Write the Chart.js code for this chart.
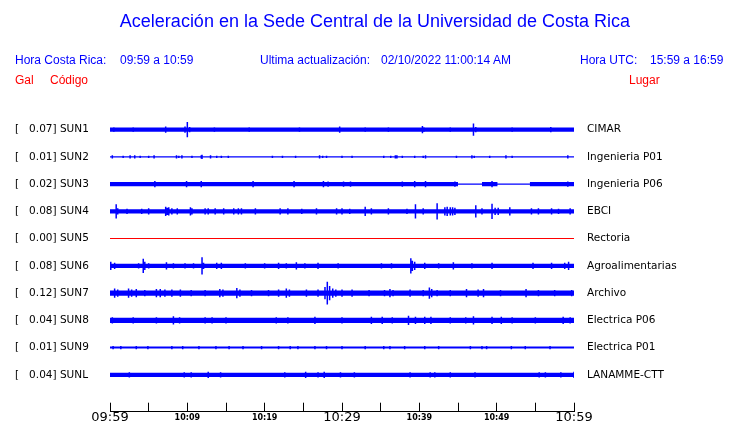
<!DOCTYPE html>
<html>
<head>
<meta charset="utf-8">
<script src="https://cdn.jsdelivr.net/npm/chart.js@4/dist/chart.umd.min.js"></script>
<style>
  body { margin: 0; background: #fff; }
  #wrap { position: relative; width: 740px; height: 423px; overflow: hidden; }
  #wrap canvas { position: absolute; left: 0; top: 0; }
  .t { position: absolute; font-family: "Liberation Sans", Arial, sans-serif; white-space: pre; }
  .hd { font-size: 12px; line-height: 14px; color: #0000ff; }
  .rd { font-size: 12px; line-height: 14px; color: #ff0000; }
</style>
</head>
<body>
<div id="wrap">
  <canvas id="sismo" width="740" height="423"></canvas>
  <div class="t" id="titulo" style="left:0;width:750px;text-align:center;top:10px;font-size:18px;line-height:22px;color:#0000ff;">Aceleración en la Sede Central de la Universidad de Costa Rica</div>
  <div class="t hd" style="left:15px;top:53px;">Hora Costa Rica:</div>
  <div class="t hd" style="left:120px;top:53px;">09:59 a 10:59</div>
  <div class="t hd" style="left:260px;top:53px;">Ultima actualización:</div>
  <div class="t hd" style="left:381px;top:53px;">02/10/2022 11:00:14 AM</div>
  <div class="t hd" style="left:580px;top:53px;">Hora UTC:</div>
  <div class="t hd" style="left:650px;top:53px;">15:59 a 16:59</div>
  <div class="t rd" style="left:15px;top:73px;">Gal</div>
  <div class="t rd" style="left:50px;top:73px;">Código</div>
  <div class="t rd" style="left:629px;top:73px;">Lugar</div>
</div>
<script>
// estaciones
var codigos = ["SUN1", "SUN2", "SUN3", "SUN4", "SUN5", "SUN6", "SUN7", "SUN8", "SUN9", "SUNL"];
var picoGal = [0.07, 0.01, 0.02, 0.08, 0.00, 0.08, 0.12, 0.04, 0.01, 0.04];
var lugares = ["CIMAR", "Ingenieria P01", "Ingenieria P06", "EBCI", "Rectoria",
               "Agroalimentarias", "Archivo", "Electrica P06", "Electrica P01", "LANAMME-CTT"];
// eje de tiempo (minutos desde 09:59)
var etiquetasTiempo = ["09:59", "10:09", "10:19", "10:29", "10:39", "10:49", "10:59"];

// banda de ruido: [desde, hasta, semiamplitud]
var sun1Banda = [[0, 60, 2]];
var sun2Banda = [[0, 60, 0.5]];
var sun3Banda = [[0, 45.0, 2], [45.0, 48.1, 0.5], [48.1, 50.1, 2], [50.1, 54.3, 0.5], [54.3, 60, 2]];
var sun4Banda = [[0, 60, 2]];
var sun5Banda = [[0, 60, 0.5]];
var sun6Banda = [[0, 60, 2]];
var sun7Banda = [[0, 60, 2.5]];
var sun8Banda = [[0, 60, 2.5]];
var sun9Banda = [[0, 60, 1]];
var sunlBanda = [[0, 60, 2]];

// picos: [minuto, semiamplitud]
var sun1Picos = [[0.5, 2], [3.0, 2], [7.2, 3], [9.7, 3], [10.0, 7.5], [10.3, 2.5], [13.5, 2], [18.0, 2], [24.5, 2],
  [29.7, 3], [33.0, 2], [36.0, 2], [40.4, 3.5], [40.6, 2], [44.0, 2], [47.0, 6], [47.3, 2.5], [52.0, 2], [57.0, 2.5]];
var sun2Picos = [[0.3, 1.5], [1.7, 1], [2.6, 1.5], [3.2, 1.5], [3.9, 1], [5.0, 1], [5.7, 1.5], [8.6, 1.5], [8.9, 1],
  [9.3, 1.5], [10.6, 1], [11.8, 1.5], [11.9, 2], [13.0, 1.5], [13.8, 1], [14.4, 1], [15.3, 1], [21.0, 1], [22.3, 1],
  [24.0, 1], [27.1, 1.5], [27.5, 1], [28.0, 1], [30.0, 1], [31.3, 1], [35.4, 1], [36.3, 1], [36.9, 1.5], [37.1, 1.5],
  [37.8, 1], [39.4, 1], [40.5, 1], [40.8, 1.5], [44.8, 1], [46.8, 1.5], [47.1, 1], [49.1, 1], [51.2, 1.5], [52.0, 1], [59.2, 1.5]];
var sun3Picos = [[5.8, 3], [9.9, 3], [11.8, 3], [18.5, 3], [23.8, 3], [27.6, 3], [28.2, 2.5], [30.2, 2.5], [31.1, 2.5],
  [37.8, 2.5], [39.4, 3], [40.8, 3], [44.6, 2.5], [49.4, 3], [59.2, 2.5]];
var sun4Picos = [[0.8, 7], [1.0, 3], [2.2, 2.5], [4.1, 2.5], [5.0, 3], [7.2, 4.5], [7.4, 3.5], [7.6, 4], [8.0, 3], [8.7, 3],
  [10.4, 4], [10.6, 3], [12.3, 3], [12.7, 3], [13.6, 3], [14.7, 3], [16.0, 3], [16.6, 3], [17.0, 3], [18.8, 3], [22.0, 3],
  [23.0, 3], [24.8, 2.5], [26.7, 3], [29.3, 3], [30.0, 3], [31.0, 2.5], [33.0, 4.5], [33.8, 3], [36.0, 3], [38.4, 2.5],
  [39.5, 7], [40.5, 3], [42.3, 8], [43.3, 4], [43.6, 4.5], [44.0, 4], [44.3, 4], [44.6, 3.5], [47.3, 6], [48.1, 3],
  [49.4, 7.5], [49.8, 3.5], [50.2, 3.5], [51.7, 4], [54.5, 3], [55.4, 3], [57.1, 3], [58.0, 2.5], [59.5, 3]];
var sun5Picos = [];
var sun6Picos = [[0.1, 4], [0.6, 3], [3.7, 2.5], [4.3, 7], [4.5, 4], [5.0, 2.5], [7.3, 3.5], [8.2, 2.5], [9.7, 2.5],
  [10.8, 2.5], [11.9, 8.5], [12.1, 3], [13.8, 3], [14.4, 3], [17.5, 2.5], [20.0, 2.5], [21.8, 3], [22.8, 2.5], [24.1, 3.5],
  [25.2, 2.5], [26.9, 3], [29.5, 2.5], [35.1, 2.5], [36.4, 2.5], [38.9, 7.5], [39.1, 5], [39.4, 4], [40.7, 3], [42.5, 2.5],
  [44.4, 3.5], [46.8, 2.5], [49.4, 3], [54.7, 3], [57.1, 3], [58.8, 3], [59.3, 4]];
var sun7Picos = [[0.6, 4.5], [1.0, 3.5], [2.4, 4.5], [2.8, 3.5], [3.4, 4], [4.5, 3], [6.0, 4], [6.5, 4], [7.1, 3.5], [8.0, 3.5],
  [9.1, 3.5], [10.5, 3], [12.3, 3], [14.2, 4], [14.6, 3.5], [16.4, 5], [16.8, 3.5], [18.3, 3], [20.5, 3], [21.8, 3.5],
  [22.8, 4.5], [23.2, 3.5], [25.4, 3.5], [26.9, 3.5], [27.8, 6], [28.1, 11.3], [28.4, 7], [28.8, 4.5], [29.2, 3.5],
  [30.0, 3.5], [31.3, 3.5], [33.5, 3], [35.5, 3], [36.2, 4], [36.6, 3], [38.8, 3.5], [40.5, 3], [41.3, 5.5], [41.6, 4],
  [42.3, 3], [44.0, 3], [46.1, 4], [47.6, 3.5], [48.3, 4], [50.5, 3], [53.8, 4], [55.4, 3], [57.5, 3], [59.7, 3]];
var sun8Picos = [[0.3, 3], [3.0, 3], [6.0, 3], [8.2, 4], [9.0, 3], [12.3, 3], [13.2, 3], [15.0, 3], [21.5, 3], [23.0, 3],
  [26.5, 3.5], [30.0, 3], [33.8, 3.5], [35.2, 3.5], [36.5, 3], [38.6, 4.5], [39.5, 3.5], [40.7, 3.5], [41.5, 3.5], [44.0, 3],
  [46.0, 3], [47.0, 4], [49.4, 3.5], [50.6, 3.5], [52.0, 3], [55.0, 3], [58.6, 3.5], [59.5, 3]];
var sun9Picos = [[0.4, 1.5], [1.4, 1.5], [3.4, 1.5], [4.9, 1.5], [8.0, 1.5], [9.4, 1.5], [11.5, 1.5], [13.7, 1.5], [15.4, 1.5],
  [17.2, 1.5], [19.6, 1.5], [21.8, 1.5], [23.3, 1.5], [24.3, 1.5], [26.5, 1.5], [28.0, 1.5], [30.0, 1.5], [33.0, 1.5],
  [35.4, 1.5], [36.2, 1.5], [38.1, 1.5], [40.7, 1.5], [42.5, 1.5], [46.6, 1.5], [48.1, 1.5], [48.7, 1.5], [51.9, 1.5],
  [53.7, 1.5], [56.9, 1.5]];
var sunlPicos = [[2.5, 2.5], [9.6, 2.5], [10.5, 2.5], [12.7, 3], [14.3, 2.5], [22.6, 2.5], [25.3, 3], [26.9, 2.5], [27.7, 3],
  [29.8, 2.5], [31.6, 2.5], [38.8, 2.5], [41.4, 2.5], [42.0, 2.5], [44.0, 2.5], [47.2, 2.5], [55.5, 2.5], [56.3, 2.5],
  [58.3, 2.5], [60.0, 3]];

var trazas = [
  {banda: sun1Banda, picos: sun1Picos}, {banda: sun2Banda, picos: sun2Picos},
  {banda: sun3Banda, picos: sun3Picos}, {banda: sun4Banda, picos: sun4Picos},
  {banda: sun5Banda, picos: sun5Picos}, {banda: sun6Banda, picos: sun6Picos},
  {banda: sun7Banda, picos: sun7Picos}, {banda: sun8Banda, picos: sun8Picos},
  {banda: sun9Banda, picos: sun9Picos}, {banda: sunlBanda, picos: sunlPicos}
];

// linea base de cada canal (unidades del eje y)
function centro(i) { return 279 - 27 * i; }

var datasets = [];
trazas.forEach(function (tr, i) {
  var c = centro(i);
  var color = i === 4 ? "#ff0000" : "#0000ff";
  var arriba = [], abajo = [];
  tr.banda.forEach(function (s) {
    arriba.push({x: s[0], y: c + s[2]}, {x: s[1], y: c + s[2]});
    abajo.push({x: s[0], y: c - s[2]}, {x: s[1], y: c - s[2]});
  });
  datasets.push({data: arriba, borderWidth: 0, borderColor: color, pointRadius: 0, fill: false});
  datasets.push({data: abajo, borderWidth: 0, borderColor: color, backgroundColor: color, pointRadius: 0, fill: "-1"});
  var sp = [];
  tr.picos.forEach(function (p) {
    sp.push({x: p[0], y: c - p[1]}, {x: p[0], y: c + p[1]}, {x: p[0], y: null});
  });
  datasets.push({data: sp, borderWidth: 1.5, borderColor: color, pointRadius: 0, spanGaps: false, fill: false});
});

Chart.defaults.font.family = "'DejaVu Sans', sans-serif";
Chart.defaults.color = "#000";

var ejeY = {
  type: "linear", min: -0.5, max: 292.5,
  grid: {display: false}, border: {display: false},
  afterBuildTicks: function (s) {
    s.ticks = codigos.map(function (_, i) { return {value: centro(i)}; });
  }
};

// las etiquetas del eje x se recortan a su caja: dejarla llegar al borde del lienzo
var sinRecorte = {
  id: "sinRecorte",
  afterLayout: function (chart) { chart.scales.x.bottom = chart.height; }
};

var ctx = document.getElementById("sismo");
var grafico = new Chart(ctx, {
  type: "line",
  data: {datasets: datasets},
  plugins: [sinRecorte],
  options: {
    responsive: false,
    animation: false,
    events: [],
    layout: {padding: {left: 15, top: 116, right: 0, bottom: 0}},
    plugins: {legend: {display: false}, tooltip: {enabled: false}, title: {display: false}},
    scales: {
      x: {
        type: "linear", min: 0, max: 60,
        afterFit: function (s) { s.height = 8; },
        grid: {display: true, drawOnChartArea: false, drawTicks: true, tickLength: -9, color: "#000", lineWidth: 1},
        border: {display: true, color: "#000", width: 1},
        ticks: {
          stepSize: 5, autoSkip: false, maxRotation: 0, padding: 8,
          callback: function (v) { return v % 10 === 0 ? etiquetasTiempo[v / 10] : ""; },
          font: function (c) {
            var grande = c.tick && c.tick.value % 30 === 0;
            return grande ? {size: 13, lineHeight: "14px"} : {size: 8, weight: "bold", lineHeight: "14px"};
          }
        }
      },
      y: Object.assign({}, ejeY, {
        position: "left",
        afterFit: function (s) { s.width = 95; },
        ticks: {
          crossAlign: "far", padding: 0, font: {size: 10.5},
          callback: function (v, i) { return "[   " + picoGal[i].toFixed(2) + "] " + codigos[i]; }
        }
      }),
      y2: Object.assign({}, ejeY, {
        position: "right",
        afterFit: function (s) { s.width = 166; },
        ticks: {
          padding: 5, font: {size: 10.5},
          callback: function (v, i) { return lugares[i]; }
        }
      })
    }
  }
});
</script>
</body>
</html>
